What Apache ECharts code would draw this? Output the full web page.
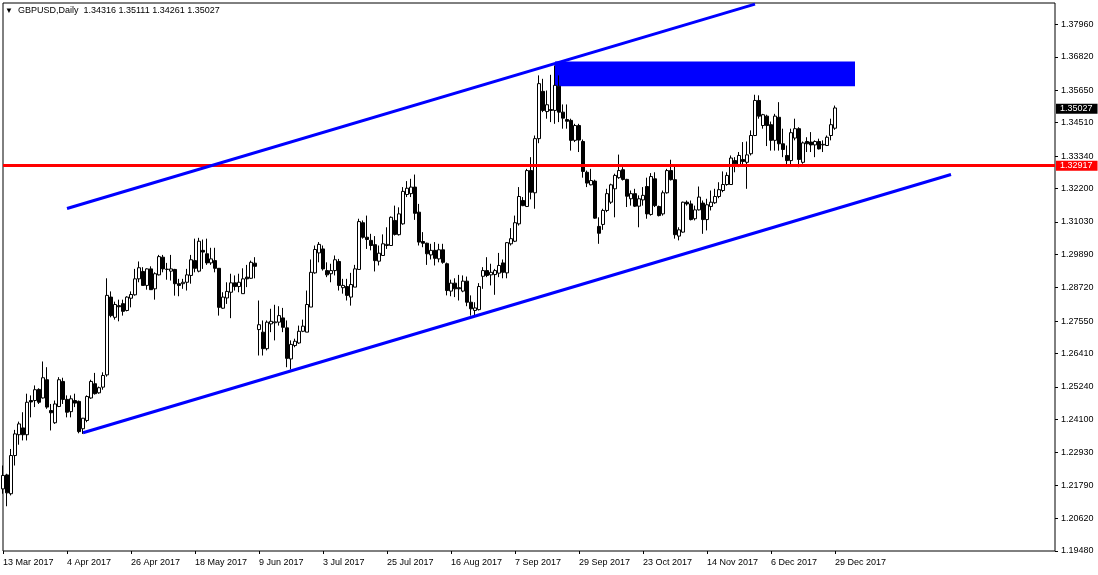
<!DOCTYPE html>
<html>
<head>
<meta charset="utf-8">
<script src="https://cdn.jsdelivr.net/npm/echarts@6/dist/echarts.min.js"></script>
<style>
  html, body { margin: 0; padding: 0; background: #fff; }
  #chart { width: 1098px; height: 575px; }
</style>
</head>
<body>
<div id="chart"></div>
<script>
// GBPUSD daily, 13 Mar 2017 .. 29 Dec 2017
var opens = [1.2166,1.2215,1.2149,1.2283,1.2356,1.2380,1.2356,1.2476,1.2476,1.2515,
  1.2485,1.2549,1.2441,1.2398,1.2455,1.2543,1.2480,1.2437,1.2476,1.2473,
  1.2377,1.2406,1.2485,1.2535,1.2503,1.2523,1.2566,1.2839,1.2768,1.2809,
  1.2816,1.2792,1.2835,1.2847,1.2903,1.2929,1.2880,1.2938,1.2868,1.2917,
  1.2979,1.2936,1.2930,1.2936,1.2886,1.2886,1.2891,1.2915,1.2967,1.2930,
  1.3003,1.2991,1.2959,1.2967,1.2940,1.2800,1.2836,1.2856,1.2889,1.2876,
  1.2851,1.2909,1.2905,1.2958,1.2725,1.2716,1.2658,1.2745,1.2749,1.2751,
  1.2766,1.2731,1.2622,1.2669,1.2678,1.2719,1.2716,1.2804,1.2924,1.2994,
  1.3008,1.2932,1.2921,1.2932,1.2964,1.2872,1.2876,1.2839,1.2874,1.2936,
  1.3100,1.3049,1.3038,1.3023,1.2965,1.2985,1.3020,1.3020,1.3108,1.3058,
  1.3096,1.3199,1.3202,1.3225,1.3137,1.3034,1.3028,1.2987,1.3003,1.2973,
  1.3005,1.2956,1.2860,1.2888,1.2872,1.2860,1.2895,1.2821,1.2792,1.2795,
  1.2912,1.2932,1.2917,1.2918,1.2923,1.2959,1.2924,1.3026,1.3035,1.3096,
  1.3178,1.3157,1.3283,1.3205,1.3395,1.3561,1.3490,1.3497,1.3494,1.3579,
  1.3488,1.3462,1.3459,1.3389,1.3441,1.3385,1.3277,1.3233,1.3246,1.3087,
  1.3094,1.3143,1.3172,1.3219,1.3258,1.3286,1.3252,1.3184,1.3202,1.3158,
  1.3180,1.3227,1.3129,1.3254,1.3157,1.3131,1.3205,1.3283,1.3251,1.3053,
  1.3067,1.3172,1.3166,1.3114,1.3145,1.3169,1.3111,1.3157,1.3170,1.3192,
  1.3213,1.3234,1.3234,1.3318,1.3298,1.3322,1.3312,1.3342,1.3406,1.3529,
  1.3441,1.3474,1.3444,1.3389,1.3470,1.3377,1.3336,1.3318,1.3397,1.3430,
  1.3312,1.3385,1.3383,1.3373,1.3385,1.3373,1.3371,1.3406,1.34316];
var highs = [1.2248,1.2219,1.2306,1.2373,1.2402,1.2435,1.2500,1.2494,1.2529,1.2519,
  1.2613,1.2593,1.2464,1.2476,1.2558,1.2556,1.2494,1.2494,1.2500,1.2476,
  1.2415,1.2494,1.2549,1.2573,1.2525,1.2575,1.2905,1.2859,1.2823,1.2830,
  1.2830,1.2842,1.2859,1.2938,1.2964,1.2944,1.2940,1.2947,1.2926,1.2987,
  1.2987,1.2959,1.2987,1.2938,1.2903,1.2903,1.2938,1.2987,1.3044,1.3047,
  1.3041,1.3044,1.3012,1.3012,1.2940,1.2856,1.2891,1.2921,1.2915,1.2921,
  1.2940,1.2952,1.2967,1.2979,1.2827,1.2757,1.2757,1.2798,1.2812,1.2807,
  1.2801,1.2757,1.2687,1.2693,1.2739,1.2760,1.2862,1.2971,1.3020,1.3032,
  1.3020,1.2961,1.2956,1.2985,1.2973,1.2903,1.2903,1.2924,1.2952,1.3114,
  1.3108,1.3125,1.3061,1.3053,1.3020,1.3059,1.3084,1.3122,1.3160,1.3154,
  1.3225,1.3246,1.3254,1.3269,1.3166,1.3067,1.3030,1.3026,1.3032,1.3026,
  1.3026,1.2960,1.2900,1.2905,1.2917,1.2915,1.2911,1.2845,1.2821,1.2888,
  1.2944,1.2979,1.2956,1.2938,1.2994,1.2971,1.3032,1.3081,1.3125,1.3225,
  1.3190,1.3289,1.3330,1.3406,1.3617,1.3605,1.3564,1.3619,1.3652,1.3617,
  1.3515,1.3515,1.3465,1.3447,1.3447,1.3392,1.3283,1.3289,1.3251,1.3119,
  1.3149,1.3219,1.3237,1.3272,1.3339,1.3295,1.3254,1.3213,1.3219,1.3196,
  1.3225,1.3258,1.3274,1.3277,1.3160,1.3213,1.3289,1.3321,1.3301,1.3084,
  1.3174,1.3178,1.3178,1.3160,1.3227,1.3178,1.3184,1.3213,1.3219,1.3242,
  1.3280,1.3277,1.3336,1.3330,1.3348,1.3383,1.3385,1.3424,1.3549,1.3547,
  1.3482,1.3479,1.3455,1.3482,1.3523,1.3430,1.3371,1.3430,1.3465,1.3435,
  1.3385,1.3400,1.3418,1.3389,1.3395,1.3389,1.3406,1.3465,1.35111];
var lows = [1.2149,1.2105,1.2143,1.2248,1.2321,1.2336,1.2336,1.2417,1.2453,1.2464,
  1.2483,1.2447,1.2371,1.2394,1.2453,1.2464,1.2417,1.2417,1.2453,1.2361,
  1.2359,1.2400,1.2482,1.2497,1.2500,1.2514,1.2560,1.2768,1.2760,1.2754,
  1.2774,1.2789,1.2803,1.2844,1.2891,1.2880,1.2865,1.2865,1.2830,1.2915,
  1.2926,1.2900,1.2897,1.2844,1.2842,1.2868,1.2862,1.2886,1.2926,1.2926,
  1.2938,1.2952,1.2952,1.2926,1.2774,1.2798,1.2815,1.2765,1.2862,1.2856,
  1.2851,1.2874,1.2903,1.2905,1.2634,1.2634,1.2652,1.2716,1.2687,1.2739,
  1.2716,1.2593,1.2585,1.2663,1.2675,1.2716,1.2716,1.2804,1.2921,1.2961,
  1.2932,1.2909,1.2891,1.2915,1.2862,1.2851,1.2827,1.2809,1.2874,1.2936,
  1.3044,1.3008,1.3003,1.2929,1.2950,1.2985,1.3008,1.3020,1.3055,1.3055,
  1.3093,1.3190,1.3190,1.3110,1.3020,1.3014,1.2952,1.2971,1.2950,1.2961,
  1.2956,1.2845,1.2842,1.2839,1.2827,1.2856,1.2807,1.2774,1.2774,1.2792,
  1.2868,1.2909,1.2880,1.2847,1.2909,1.2905,1.2905,1.3020,1.3032,1.3090,
  1.3158,1.3155,1.3182,1.3149,1.3379,1.3488,1.3465,1.3453,1.3447,1.3453,
  1.3430,1.3430,1.3353,1.3383,1.3348,1.3258,1.3225,1.3231,1.3114,1.3026,
  1.3075,1.3137,1.3166,1.3119,1.3254,1.3248,1.3155,1.3160,1.3155,1.3084,
  1.3160,1.3114,1.3125,1.3155,1.3122,1.3125,1.3202,1.3248,1.3044,1.3038,
  1.3065,1.3160,1.3108,1.3108,1.3143,1.3061,1.3073,1.3143,1.3166,1.3186,
  1.3207,1.3230,1.3234,1.3277,1.3295,1.3297,1.3219,1.3336,1.3404,1.3465,
  1.3430,1.3369,1.3353,1.3353,1.3353,1.3330,1.3303,1.3303,1.3389,1.3295,
  1.3307,1.3348,1.3348,1.3330,1.3357,1.3348,1.3369,1.3389,1.34261];
var closes = [1.2213,1.2152,1.2283,1.2359,1.2394,1.2356,1.2470,1.2471,1.2514,1.2470,
  1.2556,1.2453,1.2433,1.2464,1.2549,1.2480,1.2435,1.2482,1.2467,1.2367,
  1.2414,1.2490,1.2543,1.2500,1.2521,1.2564,1.2845,1.2774,1.2813,1.2805,
  1.2789,1.2839,1.2848,1.2903,1.2942,1.2880,1.2938,1.2865,1.2921,1.2981,
  1.2938,1.2937,1.2938,1.2886,1.2880,1.2891,1.2917,1.2970,1.2940,1.3035,
  1.2997,1.2959,1.2973,1.2940,1.2803,1.2839,1.2859,1.2889,1.2876,1.2891,
  1.2903,1.2903,1.2961,1.2947,1.2742,1.2658,1.2751,1.2754,1.2752,1.2774,
  1.2733,1.2624,1.2673,1.2684,1.2719,1.2737,1.2813,1.2926,1.3006,1.3024,
  1.2938,1.2917,1.2932,1.2970,1.2880,1.2880,1.2845,1.2883,1.2938,1.3104,
  1.3049,1.3041,1.3020,1.2967,1.2993,1.3026,1.3024,1.3119,1.3059,1.3131,
  1.3210,1.3221,1.3225,1.3133,1.3032,1.3028,1.2991,1.3003,1.2975,1.3005,
  1.2961,1.2862,1.2888,1.2868,1.2868,1.2895,1.2821,1.2798,1.2801,1.2876,
  1.2932,1.2915,1.2926,1.2932,1.2950,1.2926,1.3030,1.3044,1.3100,1.3192,
  1.3160,1.3283,1.3207,1.3395,1.3588,1.3494,1.3514,1.3494,1.3582,1.3488,
  1.3467,1.3456,1.3389,1.3441,1.3390,1.3280,1.3239,1.3248,1.3116,1.3063,
  1.3143,1.3202,1.3233,1.3266,1.3283,1.3252,1.3193,1.3202,1.3158,1.3184,
  1.3196,1.3131,1.3262,1.3160,1.3125,1.3205,1.3283,1.3251,1.3058,1.3075,
  1.3172,1.3166,1.3111,1.3145,1.3190,1.3111,1.3163,1.3172,1.3192,1.3216,
  1.3234,1.3266,1.3327,1.3307,1.3336,1.3315,1.3338,1.3406,1.3529,1.3474,
  1.3479,1.3441,1.3389,1.3474,1.3377,1.3357,1.3318,1.3416,1.3430,1.3322,
  1.3380,1.3377,1.3373,1.3385,1.3359,1.3375,1.3400,1.3444,1.35027];

// price scale labels (right side)
var yTicks = [1.19480,1.20620,1.21790,1.22930,1.24100,1.25240,1.26410,1.27550,1.28720,
  1.29890,1.31030,1.32200,1.33340,1.34510,1.35650,1.36820,1.37960];
var yMin = 1.1948, yMax = 1.3871;

// drawn objects: [bar index, price]
var upperTrend = [[16, 1.3150], [188, 1.3867]];
var lowerTrend = [[20, 1.2363], [237, 1.3269]];
var boxZone = [[138, 1.3666], [213, 1.3579]];
var redLevel = 1.32917;

var totalSlots = 264;       // chart width in bars, incl. empty space on the right
var labelEvery = 16;
var holidays = ['2017-12-25', '2018-01-01'];
var monthNames = ['Jan','Feb','Mar','Apr','May','Jun','Jul','Aug','Sep','Oct','Nov','Dec'];

// trading days
var dates = [];
var d = new Date(Date.UTC(2017, 2, 13));
while (dates.length < totalSlots) {
  var wd = d.getUTCDay();
  var iso = d.toISOString().slice(0, 10);
  if (wd !== 0 && wd !== 6 && holidays.indexOf(iso) < 0) {
    dates.push(d.getUTCDate() + ' ' + monthNames[d.getUTCMonth()] + ' ' + d.getUTCFullYear());
  }
  d = new Date(d.getTime() + 86400000);
}

var candles = [];
for (var i = 0; i < opens.length; i++) {
  candles.push([opens[i], closes[i], lows[i], highs[i]]);
}
var last = opens.length - 1;

var font = 'Liberation Sans';
var headerText = '{tri|▼}  GBPUSD,Daily  ' +
  [opens[last], highs[last], lows[last], closes[last]].map(function (v) { return v.toFixed(5); }).join(' ');

function priceTag(value, bg) {
  return {
    yAxis: value,
    lineStyle: { color: bg, width: bg === '#ff0000' ? 3 : 0, type: 'solid' },
    label: {
      show: true, position: 'end', distance: 1,
      formatter: function () { return value.toFixed(5); },
      backgroundColor: bg, color: '#fff',
      fontFamily: font, fontSize: 9, padding: [1, 5, 0, 4], lineHeight: 9
    }
  };
}

var chart = echarts.init(document.getElementById('chart'));
chart.setOption({
  animation: false,
  backgroundColor: '#ffffff',
  title: {
    text: headerText,
    left: 5,
    top: 6,
    padding: 0,
    textStyle: {
      fontFamily: font, fontSize: 9, fontWeight: 'normal', color: '#000',
      rich: { tri: { fontSize: 8, color: '#000' } }
    }
  },
  grid: {
    left: 3, right: 43, top: 3, bottom: 24,
    show: true, borderColor: '#000', borderWidth: 1, backgroundColor: '#fff'
  },
  xAxis: {
    type: 'category',
    data: dates,
    boundaryGap: false,
    axisLine: { show: false },
    axisTick: {
      show: true, inside: false, length: 3,
      lineStyle: { color: '#000' },
      interval: function (idx) { return idx % labelEvery === 0 && idx <= last; }
    },
    axisLabel: {
      show: true, align: 'left', margin: 7,
      fontFamily: font, fontSize: 9, color: '#000',
      interval: function (idx) { return idx % labelEvery === 0 && idx <= last; }
    },
    splitLine: { show: false }
  },
  yAxis: {
    type: 'value',
    position: 'right',
    min: yMin, max: yMax,
    scale: true,
    axisLine: { show: false },
    axisTick: { show: true, length: 3, lineStyle: { color: '#000' }, customValues: yTicks },
    axisLabel: {
      customValues: yTicks, margin: 6,
      fontFamily: font, fontSize: 9, color: '#000',
      formatter: function (v) { return v.toFixed(5); }
    },
    splitLine: { show: false }
  },
  series: [
    {
      type: 'candlestick',
      data: candles,
      barWidth: 3,
      z: 3,
      itemStyle: {
        color: '#ffffff', color0: '#000000',
        borderColor: '#000000', borderColor0: '#000000', borderWidth: 1
      },
      markArea: {
        silent: true,
        itemStyle: { color: '#0000ff' },
        data: [[{ xAxis: boxZone[0][0], yAxis: boxZone[0][1] }, { xAxis: boxZone[1][0], yAxis: boxZone[1][1] }]]
      },
      markLine: {
        silent: true,
        symbol: ['none', 'none'],
        data: [priceTag(redLevel, '#ff0000'), priceTag(closes[last], '#000000')]
      }
    },
    {
      type: 'line', data: upperTrend, showSymbol: false, silent: true, z: 5,
      lineStyle: { color: '#0000ff', width: 3 }
    },
    {
      type: 'line', data: lowerTrend, showSymbol: false, silent: true, z: 5,
      lineStyle: { color: '#0000ff', width: 3 }
    }
  ]
});
</script>
</body>
</html>
